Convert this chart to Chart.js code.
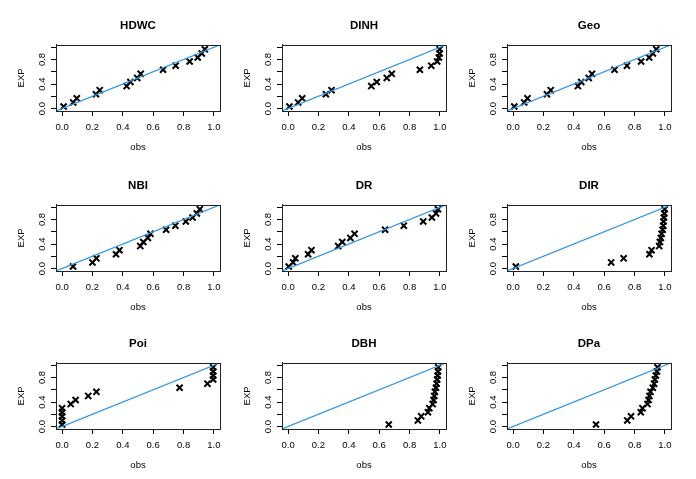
<!DOCTYPE html>
<html>
<head>
<meta charset="utf-8">
<script src="https://cdn.jsdelivr.net/npm/chart.js@4.4.1/dist/chart.umd.min.js"></script>
<style>
body { margin: 0; background: #fff; }
#wrap { position: relative; width: 696px; height: 479px; overflow: hidden; background: #fff; }
#wrap canvas { position: absolute; }
</style>
</head>
<body>
<div id="wrap"></div>
<script>
// expected values (same for every panel)
const expValues = [0.033, 0.1, 0.167, 0.233, 0.3, 0.367, 0.433, 0.5, 0.567, 0.633, 0.7, 0.767, 0.833, 0.9, 0.967];

const hdwcObs = [0.01, 0.073, 0.097, 0.223, 0.248, 0.425, 0.45, 0.495, 0.518, 0.665, 0.748, 0.84, 0.893, 0.92, 0.94];
const dinhObs = [0.009, 0.066, 0.093, 0.249, 0.286, 0.548, 0.584, 0.65, 0.683, 0.868, 0.943, 0.982, 0.993, 0.998, 0.998];
const geoObs  = [0.008, 0.073, 0.095, 0.223, 0.248, 0.427, 0.449, 0.498, 0.52, 0.668, 0.75, 0.843, 0.896, 0.921, 0.943];
const nbiObs  = [0.072, 0.2, 0.226, 0.355, 0.378, 0.515, 0.535, 0.565, 0.582, 0.685, 0.746, 0.815, 0.859, 0.887, 0.907];
const drObs   = [0.004, 0.033, 0.048, 0.132, 0.154, 0.33, 0.357, 0.41, 0.438, 0.639, 0.762, 0.89, 0.947, 0.974, 0.987];
const dirObs  = [0.018, 0.646, 0.728, 0.898, 0.912, 0.962, 0.967, 0.973, 0.978, 0.985, 0.989, 0.991, 0.993, 0.996, 0.998];
const poiObs  = [0.0, 0.0, 0.0, 0.0, 0.0, 0.057, 0.089, 0.172, 0.226, 0.774, 0.957, 0.995, 0.995, 0.995, 0.995];
const dbhObs  = [0.663, 0.855, 0.877, 0.921, 0.93, 0.952, 0.958, 0.963, 0.967, 0.974, 0.978, 0.982, 0.985, 0.987, 0.989];
const dpaObs  = [0.546, 0.752, 0.777, 0.841, 0.852, 0.885, 0.892, 0.898, 0.905, 0.92, 0.929, 0.934, 0.94, 0.947, 0.951];

const panelNames = ['HDWC', 'DINH', 'Geo', 'NBI', 'DR', 'DIR', 'Poi', 'DBH', 'DPa'];
const panelObs = [hdwcObs, dinhObs, geoObs, nbiObs, drObs, dirObs, poiObs, dbhObs, dpaObs];

const tickValues = [0, 0.2, 0.4, 0.6, 0.8, 1.0];
const yLabelValues = [0, 0.4, 0.8];
const axisMin = -0.04, axisMax = 1.04;

const colLeft = [0, 226, 451];
const rowTop = [0, 160, 318];
const fontFamily = '"Liberation Sans", Arial, Helvetica, sans-serif';

//box around the plot + rotated y labels like R
const frameAndLabels = {
    id: 'frameAndLabels',
    afterDraw(chart) {
        const { ctx, chartArea, scales } = chart;
        ctx.save();
        ctx.strokeStyle = '#222';
        ctx.lineWidth = 1;
        ctx.strokeRect(Math.round(chartArea.left) + 0.5, Math.round(chartArea.top) + 0.5,
            Math.round(chartArea.width), Math.round(chartArea.height));
        ctx.fillStyle = '#000';
        ctx.font = '9.5px ' + fontFamily;
        ctx.textAlign = 'center';
        ctx.textBaseline = 'middle';
        yLabelValues.forEach(v => {
            const y = scales.y.getPixelForValue(v);
            ctx.save();
            ctx.translate(chartArea.left - 14, y);
            ctx.rotate(-Math.PI / 2);
            ctx.fillText(v.toFixed(1), 0, 0);
            ctx.restore();
        });
        ctx.restore();
    }
};

function setTicks(scale) {
    scale.ticks = tickValues.map(v => ({ value: v }));
}

const wrap = document.getElementById('wrap');

panelNames.forEach((name, i) => {
    const canvas = document.createElement('canvas');
    canvas.width = 232;
    canvas.height = 160;
    canvas.style.width = '232px';
    canvas.style.height = '160px';
    canvas.style.left = colLeft[i % 3] + 'px';
    canvas.style.top = rowTop[Math.floor(i / 3)] + 'px';
    wrap.appendChild(canvas);

    const points = panelObs[i].map((x, k) => ({ x: x, y: expValues[k] }));

    new Chart(canvas, {
        type: 'scatter',
        data: {
            datasets: [{
                type: 'line',
                data: [{ x: axisMin, y: axisMin }, { x: axisMax, y: axisMax }],
                borderColor: '#3399e0',
                borderWidth: 1.2,
                pointRadius: 0,
                order: 0
            }, {
                data: points,
                pointStyle: 'crossRot',
                pointRadius: 4.3,
                borderColor: '#000',
                backgroundColor: '#000',
                borderWidth: 2,
                order: 1
            }]
        },
        options: {
            responsive: false,
            animation: false,
            devicePixelRatio: 1,
            layout: { padding: { top: 0, right: 12, bottom: 0, left: 0 } },
            plugins: {
                legend: { display: false },
                tooltip: { enabled: false },
                title: {
                    display: true,
                    text: name,
                    fullSize: false,
                    color: '#000',
                    font: { family: fontFamily, size: 11.5, weight: 'bold' },
                    padding: { top: 18.5, bottom: 12.5 }
                }
            },
            scales: {
                x: {
                    type: 'linear',
                    min: axisMin,
                    max: axisMax,
                    afterBuildTicks: setTicks,
                    afterFit: s => { s.height = 49; },
                    border: { display: true, color: '#222' },
                    grid: { drawOnChartArea: false, drawTicks: true, tickLength: 5, color: '#000' },
                    ticks: {
                        color: '#000',
                        padding: 6,
                        maxRotation: 0,
                        font: { family: fontFamily, size: 9.5 },
                        callback: v => v.toFixed(1)
                    },
                    title: {
                        display: true,
                        text: 'obs',
                        color: '#000',
                        font: { family: fontFamily, size: 9.5 },
                        padding: { top: 0, bottom: 7 }
                    }
                },
                y: {
                    type: 'linear',
                    min: axisMin,
                    max: axisMax,
                    afterBuildTicks: setTicks,
                    afterFit: s => { s.width = 56; },
                    border: { display: true, color: '#222' },
                    grid: { drawOnChartArea: false, drawTicks: true, tickLength: 5, color: '#000' },
                    ticks: { display: false },
                    title: {
                        display: true,
                        text: 'EXP',
                        color: '#000',
                        font: { family: fontFamily, size: 9.5 },
                        padding: { top: 16, bottom: 0 }
                    }
                }
            }
        },
        plugins: [frameAndLabels]
    });
});
</script>
</body>
</html>
